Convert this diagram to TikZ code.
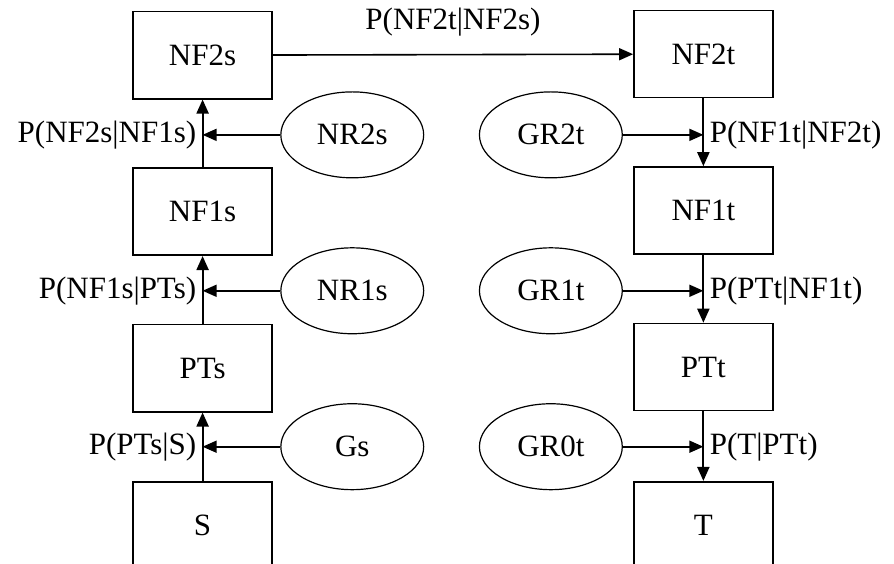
\documentclass[tikz,border=0pt]{standalone}
\usepackage{fontspec}
\setmainfont{Liberation Serif}
\usepackage{tikz}
\usetikzlibrary{arrows.meta,positioning,calc,shapes.geometric}
\tikzset{
  state/.style={rectangle,draw=black,line width=0.8pt,minimum width=2.44cm,minimum height=1.53cm,inner sep=0pt},
  cause/.style={ellipse,draw=black,line width=0.6pt,minimum width=2.51cm,minimum height=1.51cm,inner sep=0pt},
  arr/.style={-{Triangle[length=7pt,width=6pt]},line width=0.8pt},
  link/.style={line width=1.0pt},
  prob/.style={inner sep=0pt}
}

\begin{document}
\begin{tikzpicture}[
  font=\fontsize{15.5}{18}\selectfont
]

\useasboundingbox (0,0) rectangle (15.71,9.91);
\clip (0,0) rectangle (15.71,9.91);

% source side
\node[state] (NF2s) at (3.56,8.94) {NF2s};
\node[state] (NF1s) at (3.56,6.19) {NF1s};
\node[state] (PTs)  at (3.56,3.44) {PTs};
\node[state] (S)    at (3.56,0.68) {S};

% target side
\node[state] (NF2t) at (12.36,8.96) {NF2t};
\node[state] (NF1t) at (12.36,6.21) {NF1t};
\node[state] (PTt)  at (12.36,3.46) {PTt};
\node[state] (T)    at (12.36,0.68) {T};

\node[cause] (NR2s) at (6.19,7.54) {NR2s};
\node[cause] (NR1s) at (6.19,4.80) {NR1s};
\node[cause] (Gs)   at (6.19,2.06) {Gs};

\node[cause] (GR2t) at (9.68,7.54) {GR2t};
\node[cause] (GR1t) at (9.68,4.80) {GR1t};
\node[cause] (GR0t) at (9.68,2.06) {GR0t};

\draw[arr] (NF2s) -- node[prob,midway,above=9pt] (lab0) {P(NF2t|NF2s)} (NF2t);

\foreach \e/\a/\b/\lab in {NR2s/NF1s/NF2s/{P(NF2s|NF1s)},NR1s/PTs/NF1s/{P(NF1s|PTs)},Gs/S/PTs/{P(PTs|S)}}{
  \draw[arr,link] (\a.north) -- (\b.south);
  \coordinate (j\e) at (\a.north |- \e.west);
  \draw[arr] (\e.west) -- (j\e);
  \node[prob,left=3pt of j\e] (lab\e) {\lab};
}

\foreach \e/\a/\b/\lab in {GR2t/NF2t/NF1t/{P(NF1t|NF2t)},GR1t/NF1t/PTt/{P(PTt|NF1t)},GR0t/PTt/T/{P(T|PTt)}}{
  \draw[arr,link] (\a.south) -- (\b.north);
  \coordinate (j\e) at (\a.south |- \e.east);
  \draw[arr] (\e.east) -- (j\e);
  \node[prob,right=3pt of j\e] (lab\e) {\lab};
}

\end{tikzpicture}
\end{document}
